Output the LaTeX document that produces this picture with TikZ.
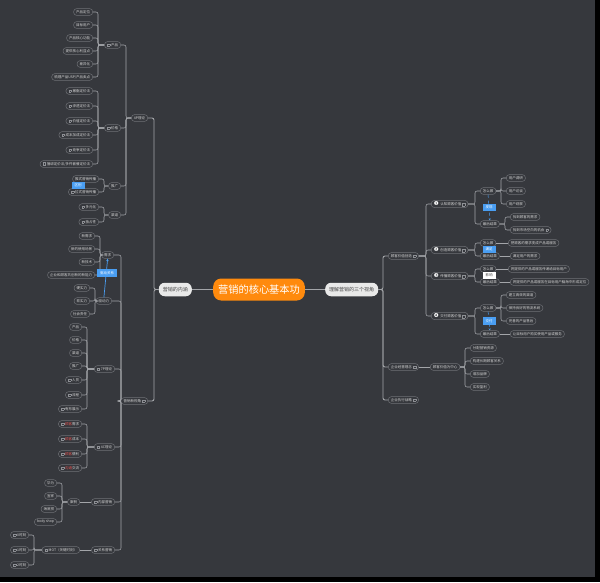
\documentclass[tikz,border=0pt]{standalone}
\usepackage{fontspec}
\setmainfont{Noto Sans CJK SC}
\newfontfamily\djv{DejaVu Sans}
\usetikzlibrary{arrows.meta}
\definecolor{bgc}{HTML}{36383D}
\definecolor{bord}{HTML}{6E7075}
\definecolor{txt}{HTML}{D4D4D4}
\definecolor{conc}{HTML}{A3A5A9}
\definecolor{orng}{HTML}{FF8A0D}
\definecolor{lblue}{HTML}{4A9EF2}
\definecolor{redt}{HTML}{E0524F}
\definecolor{icc}{HTML}{8E9095}
\definecolor{lvl}{HTML}{E9E9E9}
\newcommand\fsa{\fontsize{3.5pt}{4pt}\selectfont}
\newcommand\ic{\textcolor{icc}{\fboxsep=0pt\fboxrule=0.3pt\fbox{\rule{0pt}{2.5pt}\hspace{2.3pt}}}}
\newcommand\il{\ic\hspace{1.2pt}}
\newcommand\ir{\hspace{1.2pt}\ic}
\newcommand\nm[1]{{\djv\fontsize{5.5pt}{5.5pt}\selectfont\textcolor{white}{#1}}\hspace{1.5pt}}
\newcommand\rd[1]{\textcolor{redt}{#1}}
\newcommand\lks[3]{\foreach \kid in {#3}{\draw[conn] (#1.west) -- (#2 |- #1.west) |- (\kid.east);}}
\newcommand\rks[3]{\foreach \kid in {#3}{\draw[conn] (#1.east) -- (#2 |- #1.east) |- (\kid.west);}}
\begin{document}
\begin{tikzpicture}[x=1pt,y=-1pt,
  leaf/.style={draw=bord, line width=0.5pt, fill=bgc, text=txt, rounded corners=3.2pt, font=\fsa, inner xsep=2.6pt, inner ysep=1.4pt, minimum height=6.8pt},
  lvla/.style={fill=lvl, text=black!72, rounded corners=6pt, font=\fontsize{5pt}{6pt}\selectfont, inner xsep=4pt, inner ysep=2pt, minimum height=13.5pt},
  rootn/.style={fill=orng, text=white, rounded corners=8pt, font=\fontsize{10.2pt}{12pt}\selectfont, inner xsep=5pt, minimum height=22pt, minimum width=86pt},
  lab/.style={fill=lblue, text=white, font=\fsa, inner xsep=3pt, inner ysep=2.2pt},
  conn/.style={draw=conc, line width=0.55pt, rounded corners=2pt},
  mainc/.style={draw=conc, line width=0.9pt, rounded corners=2pt},
  bl/.style={draw=lblue, line width=0.5pt}]
\useasboundingbox (0,0) rectangle (600,582);
\fill[black] (0,0) rectangle (600,582);
\fill[bgc] (0,0) rectangle (595,577);
% trunk coordinates
\coordinate (kA) at (154,0);
\coordinate (kB) at (126,0);
\coordinate (kC) at (98,0);
\coordinate (kE) at (104,0);
\coordinate (kF) at (121,0);
\coordinate (kG) at (100,0);
\coordinate (kH) at (95,0);
\coordinate (kI) at (87,0);
\coordinate (kJ) at (62,0);
\coordinate (kK) at (34,0);
\coordinate (kR0) at (383,0);
\coordinate (kR1) at (426,0);
\coordinate (kR2) at (475,0);
\coordinate (kR3) at (501,0);
\coordinate (kR4) at (505,0);
\coordinate (kR5) at (465,0);
% center
\node[rootn] (root) at (259,289.5) {营销的核心基本功};
\node[lvla, anchor=east] (nh) at (192,289.5) {营销的内涵};
\node[lvla, anchor=west] (sj) at (325,289.5) {理解营销的三个视角};
% left level 2
\node[leaf, anchor=east] (p4) at (148,118) {4P理论};
\node[leaf, anchor=east] (xs) at (148,401) {营销新视角\ir};
% 4P
\node[leaf, anchor=east] (cp) at (121,45) {\il 产品};
\node[leaf, anchor=east] (jg) at (121,128) {\il 价格};
\node[leaf, anchor=east] (tg) at (121,186) {推广};
\node[leaf, anchor=east] (qd) at (121,215) {渠道};
\node[leaf, anchor=east] (cp1) at (93,12) {产品定位};
\node[leaf, anchor=east] (cp2) at (93,25) {目标用户};
\node[leaf, anchor=east] (cp3) at (93,38) {产品核心功能};
\node[leaf, anchor=east] (cp4) at (93,51) {提供核心利益点};
\node[leaf, anchor=east] (cp5) at (93,64) {差异化};
\node[leaf, anchor=east] (cp6) at (93,77) {梳理产品USP/产品卖点};
\node[leaf, anchor=east] (jg1) at (93,91) {\il 撇脂定价法};
\node[leaf, anchor=east] (jg2) at (93,106) {\il 渗透定价法};
\node[leaf, anchor=east] (jg3) at (93,121) {\il 价值定价法};
\node[leaf, anchor=east] (jg4) at (93,135) {\il 成本加成定价法};
\node[leaf, anchor=east] (jg5) at (93,150) {\il 竞争定价法};
\node[leaf, anchor=east] (jg6) at (93,164) {\il 捆绑定价法/多件套餐定价法};
\node[leaf, anchor=east] (tg1) at (99,179) {推式营销传播};
\node[leaf, anchor=east] (tg2) at (99,192) {\il 拉式营销传播};
\node[leaf, anchor=east] (qd1) at (99,207) {\il 多元化};
\node[leaf, anchor=east] (qd2) at (99,222) {\il 独占性};
% new view
\node[leaf, anchor=east] (xq) at (114,255) {需求};
\node[leaf, anchor=east] (qdl) at (112,301) {驱动力};
\node[leaf, anchor=east] (p7) at (115,369) {\il 7P理论};
\node[leaf, anchor=east] (c4) at (115,447) {\il 4C理论};
\node[leaf, anchor=east] (nb) at (115,502) {\il 内部营销};
\node[leaf, anchor=east] (gx) at (115,550) {\il 关系营销};
\node[leaf, anchor=east] (xq1) at (95,236) {新需求};
\node[leaf, anchor=east] (xq2) at (95,249) {新的使用场景};
\node[leaf, anchor=east] (xq3) at (95,262) {新技术};
\node[leaf, anchor=east] (xq4) at (95,275) {企业和顾客共创新的新能力};
\node[leaf, anchor=east] (ql1) at (90,288) {硬实力};
\node[leaf, anchor=east] (ql2) at (90,301) {软实力};
\node[leaf, anchor=east] (ql3) at (90,314) {社会责任};
\node[leaf, anchor=east] (s1) at (82,327) {产品};
\node[leaf, anchor=east] (s2) at (82,340) {价格};
\node[leaf, anchor=east] (s3) at (82,353) {渠道};
\node[leaf, anchor=east] (s4) at (82,366) {推广};
\node[leaf, anchor=east] (s5) at (82,380) {\il 人员};
\node[leaf, anchor=east] (s6) at (82,395) {\il 流程};
\node[leaf, anchor=east] (s7) at (82,409) {\il 有形展示};
\node[leaf, anchor=east] (f1) at (82,424) {\il \rd{顾客}需求};
\node[leaf, anchor=east] (f2) at (82,439) {\il \rd{顾客}成本};
\node[leaf, anchor=east] (f3) at (82,454) {\il \rd{顾客}便利};
\node[leaf, anchor=east] (f4) at (82,468) {\il \rd{沟通}交流};
\node[leaf, anchor=east] (al) at (80,502) {案例};
\node[leaf, anchor=east] (al1) at (57,483) {华为};
\node[leaf, anchor=east] (al2) at (57,496) {宜家};
\node[leaf, anchor=east] (al3) at (57,509) {海底捞};
\node[leaf, anchor=east] (al4) at (57,522) {body shop};
\node[leaf, anchor=east] (mot) at (80,550) {\il MOT（关键时刻）};
\node[leaf, anchor=east] (m1) at (29,535) {\il 0时刻};
\node[leaf, anchor=east] (m2) at (29,550) {\il 1时刻};
\node[leaf, anchor=east] (m3) at (29,565) {\il 2时刻};
% right side
\node[leaf, anchor=west] (gk) at (388,256) {顾客价值创造\ir};
\node[leaf, anchor=west] (jy) at (388,367) {企业经营理念\ir};
\node[leaf, anchor=west] (zx) at (388,400) {企业执行战略\ir};
\node[leaf, anchor=west] (i1) at (431,204) {\nm{❶}认知顾客价值\ir};
\node[leaf, anchor=west] (i2) at (431,250) {\nm{❷}创造顾客价值\ir};
\node[leaf, anchor=west] (i3) at (431,276) {\nm{❸}传播顾客价值\ir};
\node[leaf, anchor=west] (i4) at (431,316) {\nm{❹}交付顾客价值\ir};
\node[leaf, anchor=west] (z1) at (480,191) {怎么做};
\node[leaf, anchor=west] (j1) at (480,224) {最后结果};
\node[leaf, anchor=west] (z2) at (480,243) {怎么做};
\node[leaf, anchor=west] (j2) at (480,256) {最后结果};
\node[leaf, anchor=west] (z3) at (480,269) {怎么做};
\node[leaf, anchor=west] (j3) at (480,282) {最后结果};
\node[leaf, anchor=west] (z4) at (480,308) {怎么做};
\node[leaf, anchor=west] (j4) at (480,334) {最后结果};
\node[leaf, anchor=west] (a1) at (506,178) {用户调研};
\node[leaf, anchor=west] (a2) at (506,191) {用户访谈};
\node[leaf, anchor=west] (a3) at (506,204) {用户观察};
\node[leaf, anchor=west] (b1) at (510,217) {找到顾客的需求};
\node[leaf, anchor=west] (b2) at (510,230) {找到市场空白的机会\ir};
\node[leaf, anchor=west] (c2) at (508,243) {把顾客的需求变成产品或服务};
\node[leaf, anchor=west] (d2) at (510,256) {满足用户的需求};
\node[leaf, anchor=west] (c3) at (508,269) {将提供的产品或服务传递给目标用户};
\node[leaf, anchor=west] (d3) at (510,282) {将提供的产品或服务在目标用户脑海中形成定位};
\node[leaf, anchor=west] (e1) at (506,295) {建立高效的渠道};
\node[leaf, anchor=west] (e2) at (506,308) {保持良好的物流系统};
\node[leaf, anchor=west] (e3) at (506,321) {完善的产品售后};
\node[leaf, anchor=west] (d4) at (510,334) {让目标用户购买使用产品或服务};
\node[leaf, anchor=west] (gz) at (430,367) {顾客价值为中心};
\node[leaf, anchor=west] (g1) at (470,348) {分配营销资源};
\node[leaf, anchor=west] (g2) at (470,361) {构建长期顾客关系};
\node[leaf, anchor=west] (g3) at (470,374) {增加品牌};
\node[leaf, anchor=west] (g4) at (470,387) {实现盈利};
% connectors
\draw[mainc] (nh.east) -- (root.west);
\draw[mainc] (root.east) -- (sj.west);
\foreach \kid in {p4,xs}{\draw[mainc] (nh.west) -- (kA |- nh.west) |- (\kid.east);}
\foreach \kid in {gk,jy,zx}{\draw[mainc] (sj.east) -- (kR0 |- sj.east) |- (\kid.west);}
\lks{p4}{kB}{cp,jg,tg,qd}
\lks{cp}{kC}{cp1,cp2,cp3,cp4,cp5,cp6}
\lks{jg}{kC}{jg1,jg2,jg3,jg4,jg5,jg6}
\lks{tg}{kE}{tg1,tg2}
\lks{qd}{kE}{qd1,qd2}
\lks{xs}{kF}{xq,qdl,p7,c4,nb,gx}
\lks{xq}{kG}{xq1,xq2,xq3,xq4}
\lks{qdl}{kH}{ql1,ql2,ql3}
\lks{p7}{kI}{s1,s2,s3,s4,s5,s6,s7}
\lks{c4}{kI}{f1,f2,f3,f4}
\draw[conn] (nb.west) -- (al.east);
\lks{al}{kJ}{al1,al2,al3,al4}
\draw[conn] (gx.west) -- (mot.east);
\lks{mot}{kK}{m1,m2,m3}
\rks{gk}{kR1}{i1,i2,i3,i4}
\rks{i1}{kR2}{z1,j1}
\rks{i2}{kR2}{z2,j2}
\rks{i3}{kR2}{z3,j3}
\rks{i4}{kR2}{z4,j4}
\rks{z1}{kR3}{a1,a2,a3}
\rks{j1}{kR4}{b1,b2}
\draw[conn] (z2.east) -- (c2.west);
\draw[conn] (j2.east) -- (d2.west);
\draw[conn] (z3.east) -- (c3.west);
\draw[conn] (j3.east) -- (d3.west);
\rks{z4}{kR3}{e1,e2,e3}
\draw[conn] (j4.east) -- (d4.west);
\draw[conn] (jy.east) -- (gz.west);
\rks{gz}{kR5}{g1,g2,g3,g4}
% relations
\draw[bl, line width=0.7pt, -{Stealth[length=2.5pt,width=2.5pt]}] (qdl.north) -- (xq.south);
\node[lab] (ld) at (107,273) {驱动关系};
\node[lab] (lq) at (78,185.5) {区别};
\draw[bl, dashed, -{Stealth[length=2pt,width=2pt]}] (z1.south) -- (j1.north);
\node[lab] (lf) at (489,207.5) {发现};
\node[lab] (lm) at (489,249.5) {满足};
\node[lab, fill=white, text=black!75] (ly) at (489,275.5) {影响};
\draw[bl, dashed, -{Stealth[length=2pt,width=2pt]}] (z4.south) -- (j4.north);
\node[lab] (lj) at (489,321) {交付};
\end{tikzpicture}
\end{document}
